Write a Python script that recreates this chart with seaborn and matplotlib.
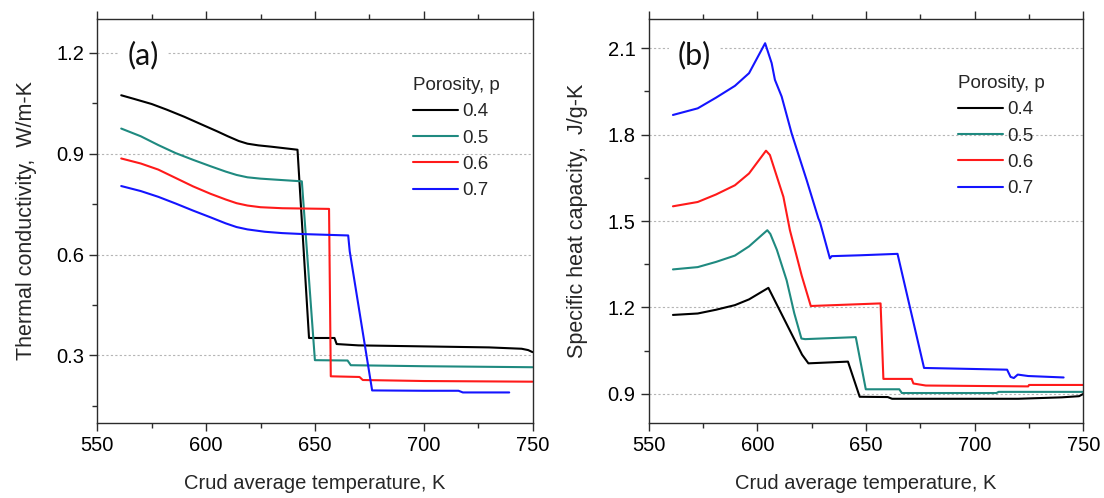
import numpy as np
import pandas as pd
import seaborn as sns
import matplotlib
matplotlib.use("Agg")
import matplotlib.pyplot as plt
from matplotlib.ticker import MultipleLocator, FormatStrFormatter

# ---------------- data ----------------
porosities = ["0.4", "0.5", "0.6", "0.7"]
colors = ["#000000", "#1f8a80", "#ff1a1a", "#1414ff"]

# (a) thermal conductivity, W/m-K
k_T_04 = [561, 567, 575, 582, 590, 598, 605, 610, 615, 619, 624, 630, 642, 647.3, 659, 660, 670, 700, 730, 745, 748,
          750]
k_04 = [1.074, 1.063, 1.048, 1.031, 1.010, 0.987, 0.967, 0.952, 0.938, 0.930, 0.925, 0.921, 0.912, 0.352, 0.352,
        0.334, 0.330, 0.327, 0.324, 0.320, 0.316, 0.310]
k_T_05 = [561, 570, 578, 586, 594, 602, 609, 614, 619, 625, 632, 644, 650.0, 665, 666.5, 700, 750]
k_05 = [0.975, 0.952, 0.926, 0.902, 0.882, 0.863, 0.847, 0.837, 0.830, 0.826, 0.823, 0.818, 0.286, 0.285, 0.271,
        0.268, 0.265]
k_T_06 = [561, 570, 578, 586, 594, 602, 609, 614, 619, 625, 635, 656.5, 657.3, 670.5, 672, 700, 750]
k_06 = [0.886, 0.871, 0.853, 0.828, 0.803, 0.781, 0.764, 0.753, 0.746, 0.741, 0.738, 0.736, 0.238, 0.236, 0.227,
        0.224, 0.222]
k_T_07 = [561, 570, 578, 586, 594, 602, 609, 614, 619, 627, 635, 645, 655, 665.3, 666, 676.3, 700, 716, 718, 739.3]
k_07 = [0.804, 0.789, 0.772, 0.752, 0.731, 0.711, 0.693, 0.682, 0.675, 0.668, 0.664, 0.661, 0.659, 0.657, 0.61,
        0.196, 0.195, 0.195, 0.190, 0.190]

# (b) specific heat capacity, J/g-K
c_T_04 = [561.2, 572.6, 581, 589.7, 596.2, 605.1, 620.6, 623.5, 641.7, 647.1, 660, 662, 720, 740, 748, 750]
c_04 = [1.174, 1.179, 1.192, 1.208, 1.228, 1.268, 1.036, 1.006, 1.012, 0.890, 0.889, 0.883, 0.883, 0.888, 0.892,
        0.900]
c_T_05 = [561.2, 572.6, 581, 589.7, 596.2, 604.6, 606, 609, 613.5, 617, 620.3, 622, 645.3, 649.9, 665.3, 666.5, 710,
          711, 750]
c_05 = [1.332, 1.340, 1.358, 1.380, 1.412, 1.468, 1.455, 1.400, 1.294, 1.180, 1.092, 1.090, 1.097, 0.916, 0.916,
        0.903, 0.903, 0.907, 0.907]
c_T_06 = [561.2, 572.6, 581, 589.7, 596.2, 604.0, 605.8, 612, 615, 620.4, 624.6, 656.7, 658.0, 671, 671.8, 677.5,
          724.6, 725, 750]
c_06 = [1.551, 1.566, 1.592, 1.624, 1.665, 1.744, 1.729, 1.584, 1.468, 1.311, 1.205, 1.214, 0.952, 0.952, 0.936,
        0.929, 0.926, 0.931, 0.931]
c_T_07 = [561.2, 572.6, 581, 589.7, 596.2, 603.6, 606.6, 608.1, 611.2, 615.8, 622.7, 628.1, 628.8, 633.4, 634.2,
          647.2, 664.5, 676.7, 714.9, 716.5, 718, 719.8, 724.6, 740.9]
c_07 = [1.868, 1.891, 1.928, 1.969, 2.013, 2.117, 2.048, 1.990, 1.932, 1.804, 1.642, 1.509, 1.497, 1.370, 1.378,
        1.381, 1.386, 0.990, 0.984, 0.959, 0.955, 0.967, 0.962, 0.957]

xlabel = "Crud average temperature, K"
ylabel_a = "Thermal conductivity,  W/m-K"
ylabel_b = "Specific heat capacity,  J/g-K"
legend_title = "Porosity, p"


def long_frame(Ts, Vs):
    parts = []
    for p, T, V in zip(porosities, Ts, Vs):
        parts.append(pd.DataFrame({"T": T, "v": V, "p": p}))
    return pd.concat(parts, ignore_index=True)


df_a = long_frame([k_T_04, k_T_05, k_T_06, k_T_07], [k_04, k_05, k_06, k_07])
df_b = long_frame([c_T_04, c_T_05, c_T_06, c_T_07], [c_04, c_05, c_06, c_07])

# ---------------- style ----------------
sns.set_theme(style="ticks")
plt.rcParams["font.family"] = ["Liberation Sans", "DejaVu Sans"]
spine_c = "#2b2b2b"
plt.rcParams.update({
    "axes.edgecolor": spine_c,
    "axes.linewidth": 1.0,
    "xtick.color": spine_c,
    "ytick.color": spine_c,
    "xtick.labelcolor": "black",
    "ytick.labelcolor": "black",
    "xtick.direction": "out",
    "ytick.direction": "out",
})

fig = plt.figure(figsize=(11.04, 4.98), dpi=100)
W, H = 1104, 498
ax_a = fig.add_axes([97.3 / W, 1 - 422.7 / H, (532.5 - 97.3) / W, (422.7 - 19.3) / H])
ax_b = fig.add_axes([648.6 / W, 1 - 422.7 / H, (1083.4 - 648.6) / W, (422.7 - 19.3) / H])

palette = dict(zip(porosities, colors))

for ax, df, ylim, ylabel, tag, anchor in [
    (ax_a, df_a, (0.1, 1.3), ylabel_a, "(a)", (0.725, 0.857)),
    (ax_b, df_b, (0.8, 2.2), ylabel_b, "(b)", (0.711, 0.862)),
]:
    sns.lineplot(data=df, x="T", y="v", hue="p", palette=palette, sort=False, estimator=None,
                 linewidth=1.5, ax=ax, legend=True)
    ax.set_xlim(550, 750)
    ax.set_ylim(*ylim)
    ax.xaxis.set_major_locator(MultipleLocator(50))
    ax.xaxis.set_minor_locator(MultipleLocator(25))
    ax.yaxis.set_major_locator(MultipleLocator(0.3))
    ax.yaxis.set_minor_locator(MultipleLocator(0.15))
    ax.yaxis.set_major_formatter(FormatStrFormatter("%.1f"))
    ax.tick_params(axis="both", which="major", length=6, width=1.0, labelsize=14.5)
    ax.tick_params(axis="both", which="minor", length=3.5, width=1.0)
    ax.tick_params(axis="x", which="both", top=True, labeltop=False)
    ax.tick_params(axis="y", which="both", right=False)
    ax.grid(axis="y", which="major", color="#b5b5b5", linestyle=(0, (2, 2)), linewidth=0.8)
    ax.grid(axis="x", which="both", visible=False)
    ax.set_axisbelow(True)
    for s in ax.spines.values():
        s.set_visible(True)
        s.set_color(spine_c)
        s.set_linewidth(1.0)
    ax.set_xlabel(xlabel, fontsize=14.5, labelpad=14)
    ax.set_ylabel(ylabel, fontsize=15.5, labelpad=14)

    handles, labels = ax.get_legend_handles_labels()
    leg = ax.legend(handles, labels, title=legend_title, loc="upper left",
                    bbox_to_anchor=anchor, frameon=False, fontsize=13.5,
                    title_fontsize=13.5, handlelength=2.4, handletextpad=0.25,
                    labelspacing=0.49, borderpad=0, borderaxespad=0, alignment="left")
    for h in leg.get_lines():
        h.set_linewidth(1.5)

    ax.text(0.106, 0.912, tag, transform=ax.transAxes, fontsize=22, family=["Lato", "DejaVu Sans"],
            color="#111111", ha="center", va="center",
            bbox=dict(boxstyle="square,pad=0.3", facecolor="white", edgecolor="none"), zorder=5)

fig.savefig("out.png", dpi=100)
